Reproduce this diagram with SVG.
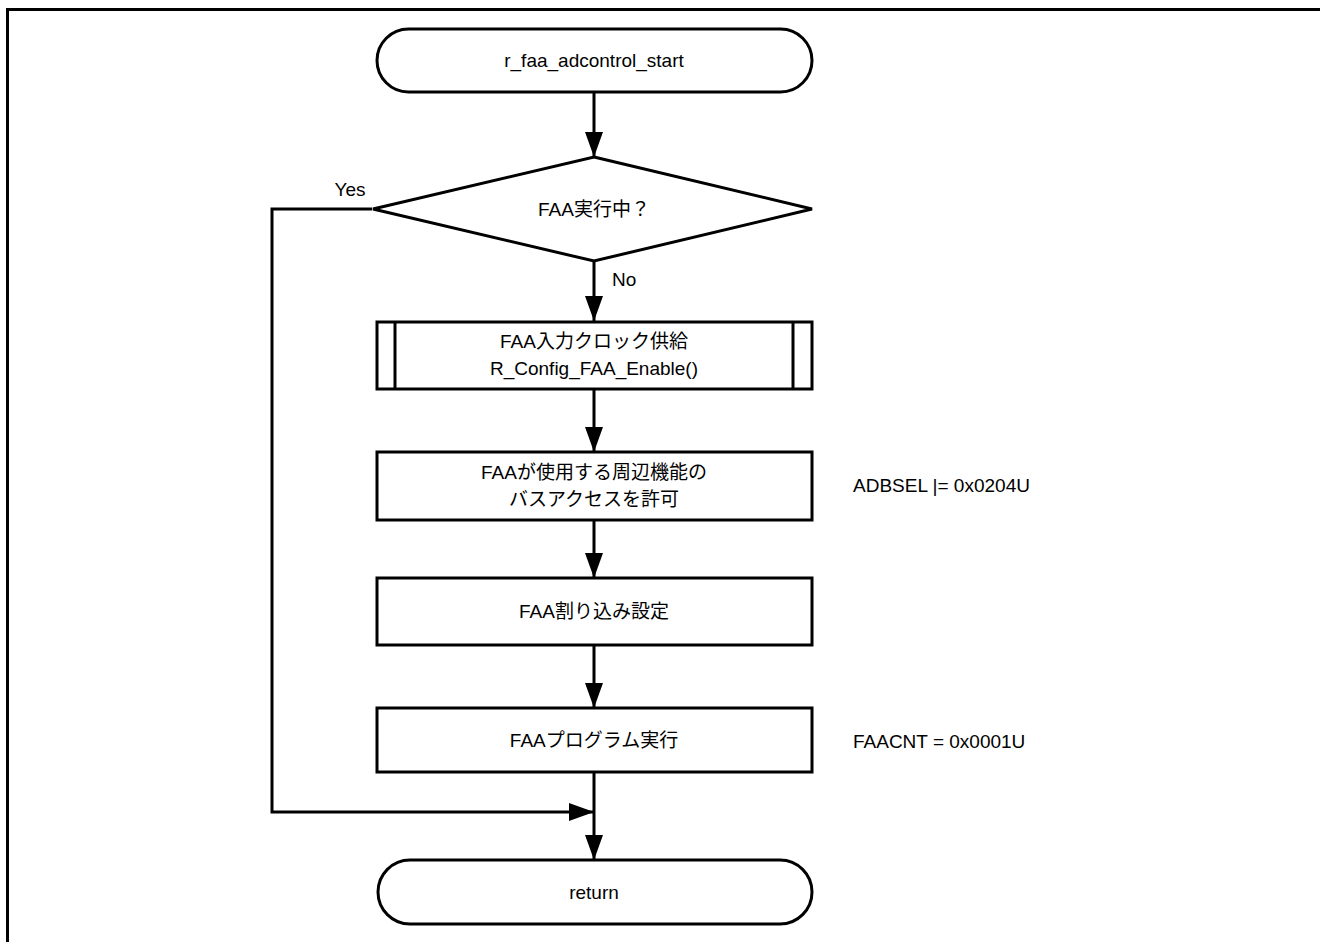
<svg xmlns="http://www.w3.org/2000/svg" width="1320" height="942" viewBox="0 0 1320 942">
<style>
.s{fill:#fff;stroke:#000;stroke-width:3}
.c{fill:none;stroke:#000;stroke-width:3}
.t{font-family:"Liberation Sans","Noto Sans CJK JP",sans-serif;font-size:19px;fill:#000}
.m{text-anchor:middle}
</style>
<defs>
<marker id="ah" markerUnits="userSpaceOnUse" markerWidth="25" markerHeight="18" refX="25" refY="9" orient="auto">
<path d="M0,0 L25,9 L0,18 z" fill="#000"/>
</marker>
</defs>
<rect x="0" y="0" width="1320" height="942" fill="#fff"/>
<path d="M7.5,942 V9.5 H1320" fill="none" stroke="#000" stroke-width="3"/>
<g id="connectors">
<path class="c" d="M594,92 V157" marker-end="url(#ah)"/>
<path class="c" d="M594,261 V321" marker-end="url(#ah)"/>
<path class="c" d="M594,389 V452" marker-end="url(#ah)"/>
<path class="c" d="M594,520 V578" marker-end="url(#ah)"/>
<path class="c" d="M594,645 V708" marker-end="url(#ah)"/>
<path class="c" d="M594,772 V860" marker-end="url(#ah)"/>
<path class="c" d="M372,209 H272 V812 H594" marker-end="url(#ah)"/>
<text class="t m" x="350" y="196">Yes</text>
<text class="t" x="612" y="286">No</text>
</g>
<g id="start">
<rect class="s" x="377" y="29" width="435" height="63" rx="31.5"/>
<text class="t m" x="594" y="67">r_faa_adcontrol_start</text>
</g>
<g id="decision">
<polygon class="s" points="594,157 812,209 594,261 373,209"/>
<text class="t m" x="594" y="216">FAA実行中？</text>
</g>
<g id="box1">
<rect class="s" x="377" y="322" width="435" height="67"/>
<path class="c" d="M395,322 V389 M793,322 V389"/>
<text class="t m" x="594" y="348">FAA入力クロック供給</text>
<text class="t m" x="594" y="375">R_Config_FAA_Enable()</text>
</g>
<g id="box2">
<rect class="s" x="377" y="452" width="435" height="68"/>
<text class="t m" x="594" y="479">FAAが使用する周辺機能の</text>
<text class="t m" x="594" y="506">バスアクセスを許可</text>
</g>
<g id="note1">
<text class="t" x="853" y="492">ADBSEL |= 0x0204U</text>
</g>
<g id="box3">
<rect class="s" x="377" y="578" width="435" height="67"/>
<text class="t m" x="594" y="618">FAA割り込み設定</text>
</g>
<g id="box4">
<rect class="s" x="377" y="708" width="435" height="64"/>
<text class="t m" x="594" y="747">FAAプログラム実行</text>
</g>
<g id="note2">
<text class="t" x="853" y="748">FAACNT = 0x0001U</text>
</g>
<g id="return">
<rect class="s" x="378" y="860" width="434" height="64" rx="32"/>
<text class="t m" x="594" y="899">return</text>
</g>
</svg>
